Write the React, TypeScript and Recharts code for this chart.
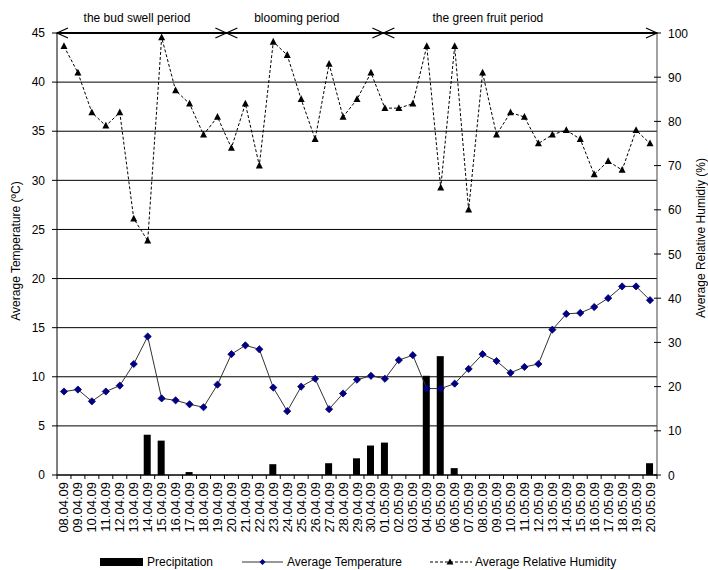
import React from "react";
import {
  ComposedChart,
  Bar,
  Line,
  XAxis,
  YAxis,
  CartesianGrid,
  Legend,
  ReferenceLine,
  Label,
} from "recharts";

// dates of observation (dd.mm.yy)
const dates = [
  "08.04.09", "09.04.09", "10.04.09", "11.04.09", "12.04.09", "13.04.09",
  "14.04.09", "15.04.09", "16.04.09", "17.04.09", "18.04.09", "19.04.09",
  "20.04.09", "21.04.09", "22.04.09", "23.04.09", "24.04.09", "25.04.09",
  "26.04.09", "27.04.09", "28.04.09", "29.04.09", "30.04.09", "01.05.09",
  "02.05.09", "03.05.09", "04.05.09", "05.05.09", "06.05.09", "07.05.09",
  "08.05.09", "09.05.09", "10.05.09", "11.05.09", "12.05.09", "13.05.09",
  "14.05.09", "15.05.09", "16.05.09", "17.05.09", "18.05.09", "19.05.09",
  "20.05.09",
];

const precipitation = [
  0, 0, 0, 0, 0, 0, 4.1, 3.5, 0, 0.3, 0, 0, 0, 0, 0, 1.1, 0, 0, 0, 1.2, 0,
  1.7, 3.0, 3.3, 0, 0, 10.1, 12.1, 0.7, 0, 0, 0, 0, 0, 0, 0, 0, 0, 0, 0, 0,
  0, 1.2,
];

const temperature = [
  8.5, 8.7, 7.5, 8.5, 9.1, 11.3, 14.1, 7.8, 7.6, 7.2, 6.9, 9.2, 12.3, 13.2,
  12.8, 8.9, 6.5, 9.0, 9.8, 6.7, 8.3, 9.7, 10.1, 9.8, 11.7, 12.2, 8.8, 8.8,
  9.3, 10.8, 12.3, 11.6, 10.4, 11.0, 11.3, 14.8, 16.4, 16.5, 17.1, 18.0,
  19.2, 19.2, 17.8,
];

const humidity = [
  97, 91, 82, 79, 82, 58, 53, 99, 87, 84, 77, 81, 74, 84, 70, 98, 95, 85, 76,
  93, 81, 85, 91, 83, 83, 84, 97, 65, 97, 60, 91, 77, 82, 81, 75, 77, 78, 76,
  68, 71, 69, 78, 75,
];

const tempTicks = [0, 5, 10, 15, 20, 25, 30, 35, 40, 45];
const humTicks = [0, 10, 20, 30, 40, 50, 60, 70, 80, 90, 100];

const periodNames = ["the bud swell period", "blooming period", "the green fruit period"];

// annotation layout, measured in category widths from the left edge
const periodBreaks = [12.14, 23.39];
const periodLabelAt = [5.73, 17.19, 30.88];

const data = dates.map((d, i) => ({
  date: d,
  precipitation: precipitation[i],
  temperature: temperature[i],
  humidity: humidity[i],
}));

const FONT = "'Liberation Sans', Arial, sans-serif";

const renderDiamond = (p: any) => {
  const { cx, cy, index } = p;
  if (cx == null || cy == null) return <g key={`d${index}`} />;
  const r = 3.6;
  return (
    <polygon
      key={`d${index}`}
      points={`${cx},${cy - r} ${cx + r},${cy} ${cx},${cy + r} ${cx - r},${cy}`}
      fill="#000080"
      stroke="#000080"
      strokeWidth={0.8}
    />
  );
};

const renderTriangle = (p: any) => {
  const { cx, cy, index } = p;
  if (cx == null || cy == null) return <g key={`t${index}`} />;
  return (
    <polygon
      key={`t${index}`}
      points={`${cx},${cy - 4} ${cx + 3.5},${cy + 2.8} ${cx - 3.5},${cy + 2.8}`}
      fill="#000"
    />
  );
};

const DateTick = (props: any) => {
  const { x, y, payload, index } = props;
  const half = payload && payload.offset ? payload.offset : 600 / 43 / 2;
  const last = index === dates.length - 1;
  return (
    <g>
      <line x1={x - half} y1={y} x2={x - half} y2={y + 4} stroke="#000" />
      {last && <line x1={x + half} y1={y} x2={x + half} y2={y + 4} stroke="#000" />}
      <text
        transform={`translate(${x + 4.5},${y + 7}) rotate(-90)`}
        textAnchor="end"
        fontSize={13}
        fill="#000"
        fontFamily={FONT}
      >
        {payload.value}
      </text>
    </g>
  );
};

const RightTick = (props: any) => {
  const { x, y, payload } = props;
  return (
    <g>
      <line x1={x - 3} y1={y} x2={x + 4} y2={y} stroke="#000" />
      <text x={x + 11} y={y + 4.5} fontSize={12} fill="#000" fontFamily={FONT}>
        {payload.value}
      </text>
    </g>
  );
};

const PeriodBar = (props: any) => {
  const vb = props.viewBox || {};
  const x0 = vb.x ?? 57;
  const y = vb.y ?? 33;
  const w = vb.width ?? 600;
  const bw = w / dates.length;
  const x1 = x0 + w;
  return (
    <g fontFamily={FONT}>
      <polyline points={`${x0 + 11},${y - 5} ${x0},${y} ${x0 + 11},${y + 5}`} fill="none" stroke="#000" strokeWidth={1.2} />
      <polyline points={`${x1 - 11},${y - 5} ${x1},${y} ${x1 - 11},${y + 5}`} fill="none" stroke="#000" strokeWidth={1.2} />
      {periodBreaks.map((b) => {
        const bx = x0 + b * bw;
        return (
          <g key={b}>
            <line x1={bx - 11} y1={y - 5} x2={bx + 11} y2={y + 5} stroke="#000" strokeWidth={1.2} />
            <line x1={bx - 11} y1={y + 5} x2={bx + 11} y2={y - 5} stroke="#000" strokeWidth={1.2} />
          </g>
        );
      })}
      {periodNames.map((n, i) => (
        <text key={n} x={x0 + periodLabelAt[i] * bw} y={y - 11} textAnchor="middle" fontSize={12} fill="#000">
          {n}
        </text>
      ))}
    </g>
  );
};

const renderLegend = () => (
  <div
    style={{
      display: "flex",
      alignItems: "center",
      height: 24,
      paddingLeft: 100,
      boxSizing: "border-box",
      fontFamily: FONT,
      fontSize: 12,
      color: "#000",
      paddingTop: 8,
    }}
  >
    <svg width={43} height={10} style={{ marginRight: 4 }}>
      <rect x={0} y={1} width={43} height={8} fill="#000" />
    </svg>
    <span style={{ marginRight: 29 }}>Precipitation</span>
    <svg width={41} height={10} style={{ marginRight: 4 }}>
      <line x1={0} y1={5} x2={41} y2={5} stroke="#333" />
      <polygon points="20.5,2 23.5,5 20.5,8 17.5,5" fill="#000080" />
    </svg>
    <span style={{ marginRight: 28 }}>Average Temperature</span>
    <svg width={42} height={10} style={{ marginRight: 3 }}>
      <line x1={0} y1={5} x2={42} y2={5} stroke="#000" strokeDasharray="3 2" />
      <polygon points="20,1.5 23.5,7.5 16.5,7.5" fill="#000" />
    </svg>
    <span>Average Relative Humidity</span>
  </div>
);

export default function App() {
  return (
    <div style={{ position: "absolute", left: 0, top: 0, background: "#fff" }}>
      <ComposedChart
        width={708}
        height={570}
        data={data}
        margin={{ top: 33, right: 0, bottom: 0, left: 0 }}
        style={{ fontFamily: FONT }}
      >
        <CartesianGrid yAxisId="left" vertical={false} stroke="#000" />
        <XAxis
          dataKey="date"
          interval={0}
          height={71}
          tickLine={false}
          tickSize={0}
          tickMargin={0}
          stroke="#000"
          tick={<DateTick />}
        />
        <YAxis
          yAxisId="left"
          width={57}
          domain={[0, 45]}
          ticks={tempTicks}
          tickSize={5}
          tickMargin={7}
          stroke="#000"
          tick={{ fill: "#000", fontSize: 12 }}
        >
          <Label
            content={() => (
              <text transform="translate(19.5,251) rotate(-90)" textAnchor="middle" fontSize={12} fill="#000" fontFamily={FONT}>
                Average Temperature (ºC)
              </text>
            )}
          />
        </YAxis>
        <YAxis
          yAxisId="right"
          orientation="right"
          width={51}
          domain={[0, 100]}
          ticks={humTicks}
          tickLine={false}
          tickSize={0}
          tickMargin={0}
          stroke="#444"
          tick={<RightTick />}
        >
          <Label
            content={() => (
              <text transform="translate(705,238) rotate(-90)" textAnchor="middle" fontSize={12} fill="#000" fontFamily={FONT}>
                Average Relative Humidiy (%)
              </text>
            )}
          />
        </YAxis>
        <Bar
          yAxisId="left"
          dataKey="precipitation"
          name="Precipitation"
          fill="#000"
          barSize={7}
          isAnimationActive={false}
        />
        <Line
          yAxisId="left"
          dataKey="temperature"
          name="Average Temperature"
          stroke="#333"
          strokeWidth={1}
          dot={renderDiamond}
          activeDot={false}
          isAnimationActive={false}
        />
        <Line
          yAxisId="right"
          dataKey="humidity"
          name="Average Relative Humidity"
          stroke="#000"
          strokeWidth={1}
          strokeDasharray="3 2"
          dot={renderTriangle}
          activeDot={false}
          isAnimationActive={false}
        />
        <ReferenceLine
          yAxisId="left"
          y={45}
          stroke="#000"
          strokeWidth={2}
          label={<PeriodBar />}
        />
        <Legend verticalAlign="bottom" height={24} content={renderLegend} />
      </ComposedChart>
    </div>
  );
}
